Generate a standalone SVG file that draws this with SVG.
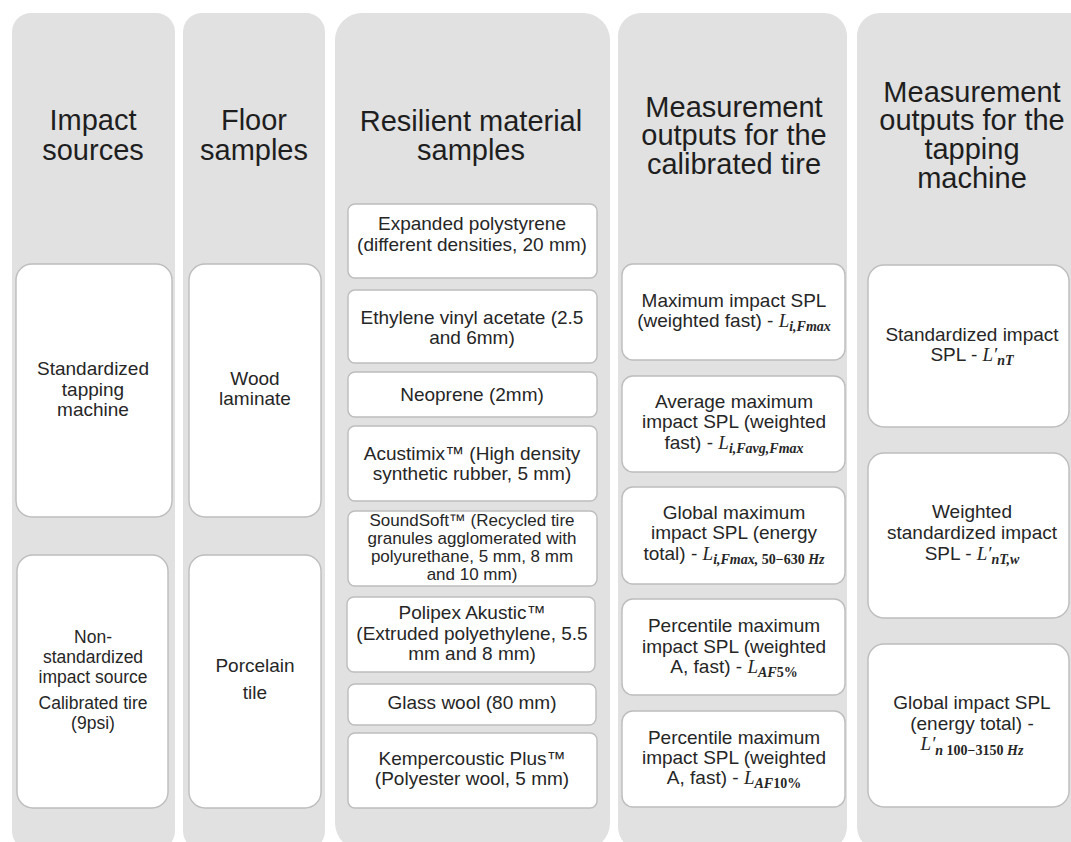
<svg xmlns="http://www.w3.org/2000/svg" width="1071" height="842" viewBox="0 0 1071 842">
<style>
.col{fill:#e1e1e1}
.box{fill:#ffffff;stroke:#bdbdbd;stroke-width:1.4}
.h{font-family:"Liberation Sans",Arial,sans-serif;font-size:29px;fill:#1e1e1e;text-anchor:middle}
.t{font-family:"Liberation Sans",Arial,sans-serif;font-size:19px;fill:#262626;text-anchor:middle}
.tc{font-family:"Liberation Sans",Arial,sans-serif;font-size:17.5px;fill:#262626;text-anchor:middle}
.ts{font-family:"Liberation Sans",Arial,sans-serif;font-size:17px;fill:#262626;text-anchor:middle}
.m{font-family:"Liberation Serif","DejaVu Serif",serif;font-style:italic;font-size:19px}
.ms{font-family:"Liberation Serif","DejaVu Serif",serif;font-style:italic;font-weight:bold;font-size:14px}
.mu{font-style:normal}
</style>
<rect width="1071" height="842" fill="#ffffff"/>

<g id="columns">
<rect class="col" x="12" y="13" width="163" height="837" rx="19"/>
<rect class="col" x="183" y="13" width="142" height="837" rx="19"/>
<rect class="col" x="335" y="13" width="275" height="837" rx="27"/>
<rect class="col" x="618" y="13" width="229" height="837" rx="23"/>
<rect class="col" x="857" y="13" width="240" height="837" rx="23"/>
</g>

<g id="headers">
<text class="h" x="93" y="130">Impact</text>
<text class="h" x="93" y="160">sources</text>
<text class="h" x="254" y="130">Floor</text>
<text class="h" x="254" y="160">samples</text>
<text class="h" x="471" y="131">Resilient material</text>
<text class="h" x="471" y="160">samples</text>
<text class="h" x="734" y="117">Measurement</text>
<text class="h" x="734" y="145">outputs for the</text>
<text class="h" x="734" y="174">calibrated tire</text>
<text class="h" x="972" y="102">Measurement</text>
<text class="h" x="972" y="130">outputs for the</text>
<text class="h" x="972" y="159">tapping</text>
<text class="h" x="972" y="188">machine</text>
</g>

<g id="src-tapping">
<rect class="box" x="16" y="264" width="156" height="253" rx="16"/>
<text class="t" x="93" y="375">Standardized</text>
<text class="t" x="93" y="396">tapping</text>
<text class="t" x="93" y="416">machine</text>
</g>
<g id="src-tire">
<rect class="box" x="17" y="555" width="151" height="253" rx="16"/>
<text class="tc" x="93" y="643">Non-</text>
<text class="tc" x="93" y="663">standardized</text>
<text class="tc" x="93" y="683">impact source</text>
<text class="tc" x="93" y="709">Calibrated tire</text>
<text class="tc" x="93" y="729">(9psi)</text>
</g>

<g id="floor-wood">
<rect class="box" x="189" y="264" width="132" height="253" rx="16"/>
<text class="t" x="255" y="385">Wood</text>
<text class="t" x="255" y="405">laminate</text>
</g>
<g id="floor-tile">
<rect class="box" x="189" y="555" width="132" height="253" rx="16"/>
<text class="t" x="255" y="672">Porcelain</text>
<text class="t" x="255" y="699">tile</text>
</g>

<g id="mat-eps">
<rect class="box" x="348" y="204" width="249" height="74" rx="7"/>
<text class="t" x="472" y="230">Expanded polystyrene</text>
<text class="t" x="472" y="251">(different densities, 20 mm)</text>
</g>
<g id="mat-eva">
<rect class="box" x="348" y="290" width="249" height="73" rx="7"/>
<text class="t" x="472" y="324">Ethylene vinyl acetate (2.5</text>
<text class="t" x="472" y="344">and 6mm)</text>
</g>
<g id="mat-neoprene">
<rect class="box" x="348" y="372" width="249" height="45" rx="7"/>
<text class="t" x="472" y="401">Neoprene (2mm)</text>
</g>
<g id="mat-acustimix">
<rect class="box" x="348" y="426" width="249" height="75" rx="7"/>
<text class="t" x="472" y="460">Acustimix™ (High density</text>
<text class="t" x="472" y="480">synthetic rubber, 5 mm)</text>
</g>
<g id="mat-soundsoft">
<rect class="box" x="348" y="511" width="249" height="75" rx="7"/>
<text class="ts" x="472" y="526">SoundSoft™ (Recycled tire</text>
<text class="ts" x="472" y="544">granules agglomerated with</text>
<text class="ts" x="472" y="562">polyurethane, 5 mm, 8 mm</text>
<text class="ts" x="472" y="580">and 10 mm)</text>
</g>
<g id="mat-polipex">
<rect class="box" x="347" y="597" width="248" height="75" rx="7"/>
<text class="t" x="472" y="619">Polipex Akustic™</text>
<text class="t" x="472" y="640">(Extruded polyethylene,  5.5</text>
<text class="t" x="472" y="660">mm and 8 mm)</text>
</g>
<g id="mat-glasswool">
<rect class="box" x="348" y="684" width="248" height="41" rx="7"/>
<text class="t" x="472" y="709">Glass wool (80 mm)</text>
</g>
<g id="mat-kempercoustic">
<rect class="box" x="348" y="733" width="249" height="75" rx="7"/>
<text class="t" x="472" y="765">Kempercoustic Plus™</text>
<text class="t" x="472" y="785">(Polyester wool, 5 mm)</text>
</g>

<g id="tire-lifmax">
<rect class="box" x="622" y="264" width="223" height="96" rx="11"/>
<text class="t" x="734" y="307">Maximum impact SPL</text>
<text class="t" x="734" y="327">(weighted fast) - <tspan class="m">L</tspan><tspan class="ms" dy="4">i,Fmax</tspan></text>
</g>
<g id="tire-favg">
<rect class="box" x="622" y="376" width="223" height="96" rx="11"/>
<text class="t" x="734" y="408">Average maximum</text>
<text class="t" x="734" y="428">impact SPL (weighted</text>
<text class="t" x="734" y="449">fast) - <tspan class="m">L</tspan><tspan class="ms" dy="4">i,Favg,Fmax</tspan></text>
</g>
<g id="tire-global">
<rect class="box" x="622" y="487" width="223" height="97" rx="11"/>
<text class="t" x="734" y="519">Global maximum</text>
<text class="t" x="734" y="539">impact SPL (energy</text>
<text class="t" x="734" y="560">total) - <tspan class="m">L</tspan><tspan class="ms" dy="4">i,Fmax, <tspan class="mu">50−630</tspan> Hz</tspan></text>
</g>
<g id="tire-laf5">
<rect class="box" x="622" y="599" width="223" height="96" rx="11"/>
<text class="t" x="734" y="632">Percentile maximum</text>
<text class="t" x="734" y="653">impact SPL (weighted</text>
<text class="t" x="734" y="673">A, fast) - <tspan class="m">L</tspan><tspan class="ms" dy="4">AF<tspan class="mu">5%</tspan></tspan></text>
</g>
<g id="tire-laf10">
<rect class="box" x="622" y="711" width="223" height="96" rx="11"/>
<text class="t" x="734" y="744">Percentile maximum</text>
<text class="t" x="734" y="764">impact SPL (weighted</text>
<text class="t" x="734" y="784">A, fast) - <tspan class="m">L</tspan><tspan class="ms" dy="4">AF<tspan class="mu">10%</tspan></tspan></text>
</g>

<g id="tap-lnt">
<rect class="box" x="868" y="265" width="201" height="162" rx="16"/>
<text class="t" x="972" y="341">Standardized impact</text>
<text class="t" x="972" y="361">SPL - <tspan class="m">L′</tspan><tspan class="ms" dy="4">nT</tspan></text>
</g>
<g id="tap-lntw">
<rect class="box" x="868" y="453" width="201" height="165" rx="16"/>
<text class="t" x="972" y="518">Weighted</text>
<text class="t" x="972" y="539">standardized impact</text>
<text class="t" x="972" y="560">SPL - <tspan class="m">L′</tspan><tspan class="ms" dy="4">nT,w</tspan></text>
</g>
<g id="tap-global">
<rect class="box" x="868" y="644" width="201" height="163" rx="16"/>
<text class="t" x="972" y="709">Global impact SPL</text>
<text class="t" x="972" y="730">(energy total) -</text>
<text class="t" x="972" y="750"><tspan class="m">L′</tspan><tspan class="ms" dy="5">n <tspan class="mu">100−3150</tspan> Hz</tspan></text>
</g>

<g id="connectors"/>
</svg>
